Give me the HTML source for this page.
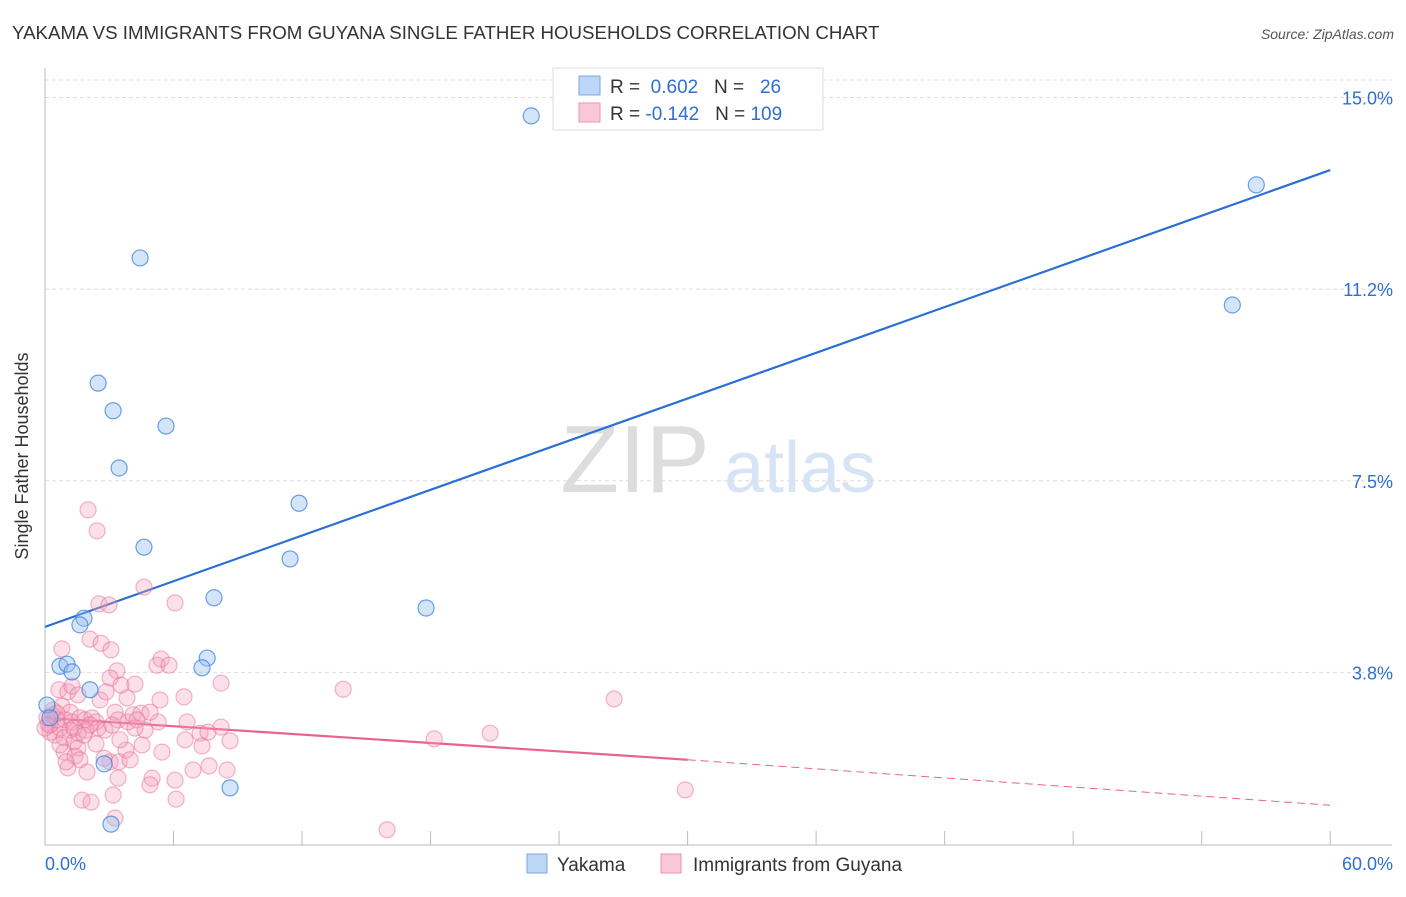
<!DOCTYPE html>
<html><head><meta charset="utf-8"><style>
body{margin:0;background:#fff;font-family:"Liberation Sans",sans-serif}
svg text{font-family:"Liberation Sans",sans-serif}
</style></head><body>
<svg id="chart" width="1406" height="892" viewBox="0 0 1406 892">
<text x="12" y="39" font-size="18.7" fill="#333">YAKAMA VS IMMIGRANTS FROM GUYANA SINGLE FATHER HOUSEHOLDS CORRELATION CHART</text>
<text x="1394" y="39" font-size="14" fill="#555" text-anchor="end" font-style="italic">Source: ZipAtlas.com</text>
<text x="28" y="456" font-size="18" fill="#333" text-anchor="middle" transform="rotate(-90 28 456)">Single Father Households</text>
<g><text x="635" y="492" font-size="96" fill="#ddd" text-anchor="middle" font-family="Liberation Serif,serif">ZIP</text><text x="800" y="492" font-size="72" fill="#d6e4f5" text-anchor="middle">atlas</text></g>
<g id="grid"></g><g id="axes"></g><g id="lines"></g><g id="pts"></g>
<g>
<rect x="553" y="68" width="270" height="62" fill="#fff" stroke="#ddd"/>
<rect x="579" y="76" width="21" height="19" fill="#bcd6f5" stroke="#7aa8e0"/>
<rect x="579" y="103" width="21" height="19" fill="#f9c8d8" stroke="#ee93b0"/>
<text x="610" y="93" font-size="19" fill="#333">R = <tspan fill="#2e6fd0">&#160;0.602</tspan>&#160;&#160;&#160;N = <tspan fill="#2e6fd0">&#160;&#160;26</tspan></text>
<text x="610" y="120" font-size="19" fill="#333">R = <tspan fill="#2e6fd0">-0.142</tspan>&#160;&#160;&#160;N = <tspan fill="#2e6fd0">109</tspan></text>
</g>
<g>
<rect x="527" y="854" width="20" height="19" fill="#bcd6f5" stroke="#7aa8e0"/>
<text x="557" y="871" font-size="19" fill="#333">Yakama</text>
<rect x="661" y="854" width="20" height="19" fill="#f9c8d8" stroke="#ee93b0"/>
<text x="693" y="871" font-size="19" fill="#333">Immigrants from Guyana</text>
</g>
</svg>
<script>
const yTicks=[15.0,11.2,7.5,3.8];
const yTickVals=[15,11.25,7.5,3.75];
const xTickLabels=["0.0%","60.0%"];
const blueX=[22.70,56.55,55.43,4.44,2.48,3.18,5.65,3.46,11.86,4.62,11.44,7.89,17.79,1.82,1.63,7.57,7.33,0.70,1.03,1.26,2.10,0.09,0.23,2.76,8.64,3.08];
const blueY=[14.64,13.29,10.94,11.86,9.41,8.87,8.57,7.75,7.06,6.20,5.97,5.21,5.01,4.81,4.68,4.03,3.84,3.87,3.91,3.76,3.41,3.11,2.86,1.96,1.49,0.78];
const pinkX=[2.01,2.43,4.62,2.52,2.99,6.07,2.10,2.62,3.08,0.79,5.23,5.42,5.79,3.36,3.04,0.65,1.07,1.26,1.54,3.55,4.20,8.22,6.49,3.83,13.92,26.57,0.79,1.17,0.33,0.56,0.14,0.23,0.47,0.70,0.93,1.26,1.63,1.87,2.19,2.38,2.48,1.91,1.54,1.17,0.89,1.35,1.54,2.10,3.27,3.41,3.88,4.11,4.48,4.30,4.67,5.28,6.63,7.24,7.61,8.22,6.54,7.33,8.64,4.53,3.78,5.46,0.89,1.40,1.63,1.07,1.96,0.98,3.04,3.46,3.97,5.00,6.91,7.66,8.50,6.07,3.41,4.90,1.73,2.15,3.18,6.12,18.17,20.78,29.89,15.97,3.27,2.76,0.23,0.37,0.56,0.00,0.09,0.70,1.35,1.82,2.38,3.50,4.20,5.37,4.90,2.80,3.13,2.57,2.85];
const pinkY=[6.93,6.52,5.42,5.09,5.07,5.11,4.40,4.32,4.19,4.21,3.89,4.01,3.89,3.78,3.64,3.41,3.37,3.48,3.31,3.50,3.52,3.54,3.27,3.25,3.42,3.23,3.09,2.97,2.92,2.82,2.74,2.58,2.52,2.66,2.82,2.78,2.86,2.82,2.86,2.78,2.66,2.62,2.56,2.62,2.47,2.39,2.27,2.72,2.97,2.82,2.78,2.92,2.95,2.82,2.62,2.78,2.78,2.56,2.58,2.68,2.43,2.31,2.41,2.33,2.23,2.19,2.19,2.11,2.04,1.88,1.80,2.00,2.00,2.00,2.04,1.68,1.84,1.92,1.84,1.64,1.68,1.55,1.25,1.21,1.35,1.27,2.45,2.56,1.45,0.67,0.90,2.07,2.72,3.01,2.95,2.66,2.86,2.33,2.66,2.52,2.35,2.43,2.66,3.21,2.97,2.62,2.72,3.21,3.37];
const blueTrend=[4.64,13.58];
const pinkTrend=[2.86,2.04,1.15];
const NS="http://www.w3.org/2000/svg";
const X=v=>45+v*21.42, Y=v=>864-v*51.1;
function mk(p,t,a){const e=document.createElementNS(NS,t);for(const k in a)e.setAttribute(k,a[k]);document.getElementById(p).appendChild(e);return e;}
let g=mk('grid','line',{x1:45,x2:1392,y1:80,y2:80,stroke:'#ddd','stroke-dasharray':'4 3'});


yTickVals.forEach((v,i)=>{
 const l=mk('grid','line',{x1:45,x2:1392,y1:Y(v),y2:Y(v),stroke:'#ddd','stroke-dasharray':'4 3'});
 
 
 const t=mk('axes','text',{x:1393,y:Y(v)+7,'font-size':18,fill:'#2e6fd0','text-anchor':'end'});
 t.textContent=yTicks[i].toFixed(1)+'%';
 
 
});
let a=mk('axes','line',{x1:45,x2:45,y1:68,y2:845,stroke:'#bbb'});


a=mk('axes','line',{x1:45,x2:1392,y1:845,y2:845,stroke:'#bbb'});


for(let i=0;i<=10;i++){const xx=X(i*6);const tk=mk('axes','line',{x1:xx,x2:xx,y1:831,y2:845,stroke:'#bbb'});
 
 }
[[0,'start'],[60,'end']].forEach((d,i)=>{const t=mk('axes','text',{x:i?1393:45,y:870,'font-size':18,fill:'#2e6fd0','text-anchor':d[1]});t.textContent=xTickLabels[i];
 
 });
let ln=mk('lines','line',{x1:X(0),y1:Y(blueTrend[0]),x2:X(60),y2:Y(blueTrend[1]),stroke:'#2b6fd6','stroke-width':2.2});


ln=mk('lines','line',{x1:X(0),y1:Y(pinkTrend[0]),x2:X(30),y2:Y(pinkTrend[1]),stroke:'#e8638e','stroke-width':2.2});


ln=mk('lines','line',{x1:X(30),y1:Y(pinkTrend[1]),x2:X(60),y2:Y(pinkTrend[2]),stroke:'#e8638e','stroke-width':1,'stroke-dasharray':'8 5'});


pinkX.forEach((v,i)=>{const c=mk('pts','circle',{cx:X(v),cy:Y(pinkY[i]),r:8,fill:'rgba(244,160,188,0.32)',stroke:'rgba(232,110,150,0.5)','stroke-width':1.2});
 
 });
blueX.forEach((v,i)=>{const c=mk('pts','circle',{cx:X(v),cy:Y(blueY[i]),r:8,fill:'rgba(150,190,240,0.4)',stroke:'rgba(60,130,220,0.75)','stroke-width':1.2});
 
 });
</script>
</body></html>
